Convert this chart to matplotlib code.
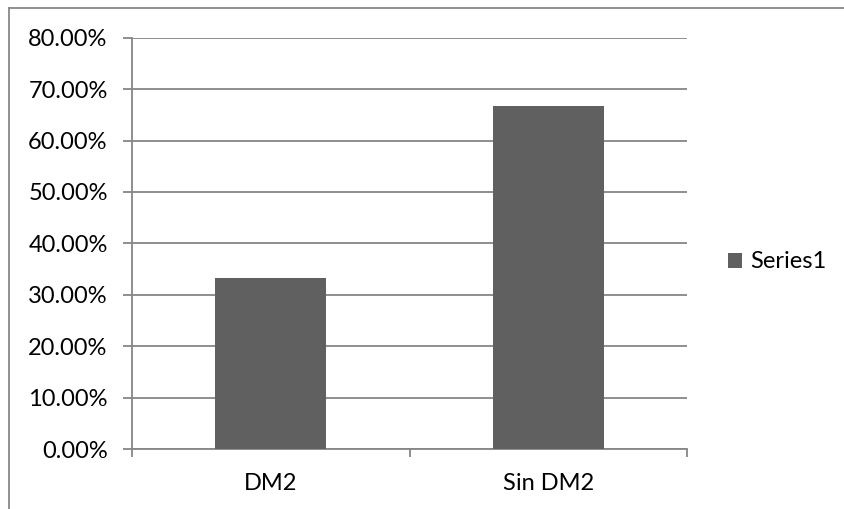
import matplotlib
matplotlib.use("Agg")
import matplotlib.pyplot as plt
from matplotlib.lines import Line2D
from matplotlib.patches import Patch
from matplotlib.ticker import FuncFormatter, FixedLocator

categories = ["DM2", "Sin DM2"]
values = [33.33, 66.67]
series_name = "Series1"
yticks = [0, 10, 20, 30, 40, 50, 60, 70, 80]

plt.rcParams['font.family'] = ['Lato', 'DejaVu Sans']

W, H = 844, 509
fig = plt.figure(figsize=(W / 100, H / 100), dpi=100)
ax = fig.add_axes([132 / W, 1 - 449 / H, (687 - 132) / W, (449 - 37.7) / H])

bar_color = "#606060"
grid_color = "#868686"
fs = 17

x = list(range(len(categories)))
ax.bar(x, values, width=0.4, color=bar_color, zorder=3)

ax.set_xlim(-0.5, len(categories) - 0.5)
ax.set_ylim(0, 80)
ax.yaxis.set_major_locator(FixedLocator(yticks))
ax.yaxis.set_major_formatter(FuncFormatter(lambda v, p: f"{v:.2f}%"))
ax.yaxis.grid(True, color=grid_color, linewidth=1.3, zorder=0)
ax.set_axisbelow(True)

ax.set_xticks(x)
ax.set_xticklabels(categories)
ax.set_xticks([i - 0.5 for i in range(len(categories) + 1)], minor=True)

for s in ["top", "right"]:
    ax.spines[s].set_visible(False)
for s in ["left", "bottom"]:
    ax.spines[s].set_color(grid_color)
    ax.spines[s].set_linewidth(1.3)

ax.tick_params(axis="y", length=6.5, width=1.3, color=grid_color, pad=11, labelsize=fs, labelcolor="#000000")
ax.tick_params(axis="x", which="major", length=0, pad=17, labelsize=fs, labelcolor="#000000")
ax.tick_params(axis="x", which="minor", length=6, width=1.3, color=grid_color)

handle = Patch(facecolor=bar_color, edgecolor="none")
fig.legend([handle], [series_name], loc="center left", bbox_to_anchor=(707 / W, 1 - 262 / H),
           frameon=False, fontsize=fs, handlelength=0.6, handleheight=0.6, handletextpad=0.35)

# outer chart border (top and left visible)
fig.add_artist(Line2D([9 / W, 1], [1 - 8 / H, 1 - 8 / H], color="#888888", linewidth=1.3))
fig.add_artist(Line2D([9 / W, 9 / W], [0, 1 - 8 / H], color="#888888", linewidth=1.3))

fig.savefig("out.png", dpi=100)
